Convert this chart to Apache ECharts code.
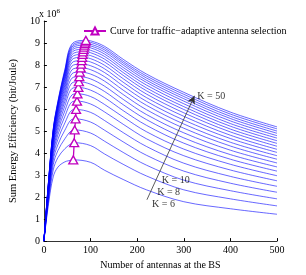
<!DOCTYPE html>
<html><head><meta charset="utf-8">
<script src="https://cdn.jsdelivr.net/npm/echarts@6/dist/echarts.min.js"></script>
<style>html,body{margin:0;padding:0;background:#fff}#c{width:306px;height:275px}</style>
</head><body><div id="c"></div>
<script>
const kValues = [6,8,10,12,14,16,18,20,22,24,26,28,30,32,34,36,38,40,42,44,46,48,50];
const sampleX = [0,10,20,30,45,60,100,130,170,220,300,400,500];
const k06 = [0,1.70,2.92,3.36,3.60,3.68,3.58,3.22,2.80,2.33,1.79,1.47,1.22];
const k08 = [0,1.85,3.23,3.79,4.20,4.45,4.34,3.96,3.49,2.96,2.33,1.92,1.60];
const k10 = [0,1.96,3.47,4.11,4.65,5.03,4.91,4.54,4.03,3.45,2.77,2.29,1.92];
const k12 = [0,2.06,3.67,4.38,5.04,5.53,5.41,5.04,4.51,3.90,3.18,2.63,2.22];
const k14 = [0,2.14,3.84,4.62,5.37,5.95,5.85,5.48,4.93,4.30,3.54,2.94,2.49];
const k16 = [0,2.21,3.99,4.83,5.67,6.32,6.23,5.87,5.31,4.65,3.88,3.23,2.74];
const k18 = [0,2.27,4.12,5.01,5.92,6.64,6.57,6.21,5.64,4.97,4.18,3.49,2.97];
const k20 = [0,2.33,4.24,5.17,6.15,6.93,6.86,6.52,5.93,5.26,4.45,3.72,3.18];
const k22 = [0,2.38,4.35,5.32,6.35,7.18,7.13,6.80,6.20,5.52,4.69,3.93,3.37];
const k24 = [0,2.42,4.44,5.44,6.52,7.40,7.37,7.04,6.44,5.75,4.92,4.13,3.55];
const k26 = [0,2.46,4.52,5.56,6.69,7.60,7.59,7.27,6.66,5.97,5.13,4.32,3.72];
const k28 = [0,2.50,4.60,5.66,6.83,7.78,7.79,7.47,6.86,6.17,5.32,4.49,3.88];
const k30 = [0,2.53,4.67,5.76,6.97,7.95,7.97,7.66,7.05,6.35,5.50,4.66,4.03];
const k32 = [0,2.56,4.73,5.84,7.09,8.10,8.14,7.83,7.22,6.52,5.67,4.81,4.17];
const k34 = [0,2.59,4.79,5.93,7.20,8.24,8.29,7.99,7.38,6.68,5.83,4.96,4.31];
const k36 = [0,2.62,4.84,6.00,7.31,8.36,8.43,8.14,7.53,6.83,5.98,5.09,4.44];
const k38 = [0,2.64,4.89,6.06,7.40,8.47,8.56,8.27,7.66,6.96,6.11,5.22,4.56];
const k40 = [0,2.66,4.94,6.12,7.48,8.57,8.67,8.39,7.78,7.09,6.24,5.34,4.68];
const k42 = [0,2.68,4.98,6.18,7.56,8.66,8.78,8.50,7.89,7.21,6.36,5.46,4.79];
const k44 = [0,2.70,5.01,6.23,7.63,8.74,8.87,8.60,8.00,7.31,6.47,5.57,4.90];
const k46 = [0,2.71,5.04,6.27,7.69,8.81,8.95,8.69,8.09,7.41,6.57,5.67,5.00];
const k48 = [0,2.73,5.07,6.31,7.75,8.88,9.03,8.77,8.17,7.50,6.67,5.77,5.10];
const k50 = [0,2.74,5.10,6.35,7.80,8.95,9.10,8.85,8.26,7.59,6.76,5.86,5.19];
const peakX = [63,65,66,68,69,71,72,74,75,76,77,79,80,81,82,83,84,85,86,87,88,89,90];
const peakY = [3.69,4.47,5.05,5.55,5.98,6.36,6.69,6.98,7.24,7.47,7.68,7.87,8.04,8.20,8.35,8.48,8.60,8.71,8.81,8.90,8.98,9.05,9.12];
const xTicks = [0,100,200,300,400,500];
const yTicks = [0,1,2,3,4,5,6,7,8,9,10];
const legendText = 'Curve for traffic\u2212adaptive antenna selection';
const xName = 'Number of antennas at the BS';
const yName = 'Sum Energy Efficiency (bit/Joule)';
const arrowFrom = [221, 1.88];
const arrowTo = [323, 6.6];
const kLabels = [
  {x: 329, y: 6.59, text: 'K = 50'},
  {x: 253, y: 2.74, text: 'K = 10'},
  {x: 243, y: 2.22, text: 'K = 8'},
  {x: 232, y: 1.68, text: 'K = 6'}
];

const curves = [k06,k08,k10,k12,k14,k16,k18,k20,k22,k24,k26,k28,k30,k32,k34,k36,k38,k40,k42,k44,k46,k48,k50];
const FONT = 'Liberation Serif';
const series = [];
curves.forEach((ys, i) => {
  const pts = [];
  for (let j = 0; j < sampleX.length; j++) {
    if (sampleX[j] === 100) pts.push([peakX[i], peakY[i]]);
    pts.push([sampleX[j], ys[j]]);
  }
  series.push({
    type: 'line', name: 'K=' + kValues[i], data: pts, smooth: 0.35, showSymbol: false,
    lineStyle: {color: '#0000ff', width: 0.6}, itemStyle: {color: '#0000ff'},
    silent: true, z: 2, animation: false
  });
});
series.push({
  type: 'line', name: legendText,
  data: peakX.map((x, i) => [x, peakY[i]]),
  symbol: 'triangle', symbolSize: [9, 8], showSymbol: true,
  lineStyle: {color: '#c000c0', width: 1.3},
  itemStyle: {color: '#ffffff', borderColor: '#c000c0', borderWidth: 1.3},
  z: 5, animation: false,
  markLine: {
    silent: true, symbol: ['none', 'arrow'], symbolSize: [6, 8],
    lineStyle: {color: '#333', width: 0.8, type: 'solid'},
    label: {show: false},
    data: [[{coord: arrowFrom}, {coord: arrowTo}]]
  }
});
series.push({
  type: 'scatter', name: 'labels', symbolSize: 0, silent: true, z: 6,
  data: kLabels.map(d => ({value: [d.x, d.y], label: {formatter: d.text}})),
  label: {show: true, position: 'right', distance: 0, color: '#000', fontFamily: FONT, fontSize: 10},
  animation: false
});

const chart = echarts.init(document.getElementById('c'), null, {renderer: 'canvas'});
chart.setOption({
  animation: false,
  backgroundColor: '#fff',
  grid: {left: 40, right: 29, top: 21, bottom: 31},
  legend: {
    data: [legendText],
    left: 78, top: 21, itemWidth: 22, itemHeight: 9, itemGap: 4,
    textStyle: {fontFamily: FONT, fontSize: 10, color: '#000', padding: [0, 0, 0, -1]},
    selectedMode: false
  },
  xAxis: {
    type: 'value', min: xTicks[0], max: xTicks[xTicks.length - 1], interval: 100,
    name: xName, nameLocation: 'middle', nameGap: 16,
    nameTextStyle: {fontFamily: FONT, fontSize: 10, color: '#000'},
    axisLine: {lineStyle: {color: '#000', width: 0.8}},
    axisTick: {inside: true, length: 3, lineStyle: {color: '#000'}},
    axisLabel: {fontFamily: FONT, fontSize: 10, color: '#000', margin: 4},
    splitLine: {show: false}
  },
  yAxis: {
    type: 'value', min: yTicks[0], max: yTicks[yTicks.length - 1], interval: 1,
    name: yName, nameLocation: 'middle', nameGap: 22, nameRotate: 90,
    nameTextStyle: {fontFamily: FONT, fontSize: 10.5, color: '#000'},
    axisLine: {show: true, lineStyle: {color: '#000', width: 0.8}},
    axisTick: {show: true, inside: true, length: 3, lineStyle: {color: '#000'}},
    axisLabel: {fontFamily: FONT, fontSize: 10, color: '#000', margin: 4},
    splitLine: {show: false}
  },
  graphic: [{
    type: 'text', left: 39, top: 8,
    style: {
      text: 'x 10{s|6}', fontFamily: FONT, fontSize: 10, fill: '#000',
      rich: {s: {fontSize: 7, verticalAlign: 'top', padding: [0, 0, 6, 0], fontFamily: FONT}}
    }
  }],
  series: series
});
</script></body></html>
